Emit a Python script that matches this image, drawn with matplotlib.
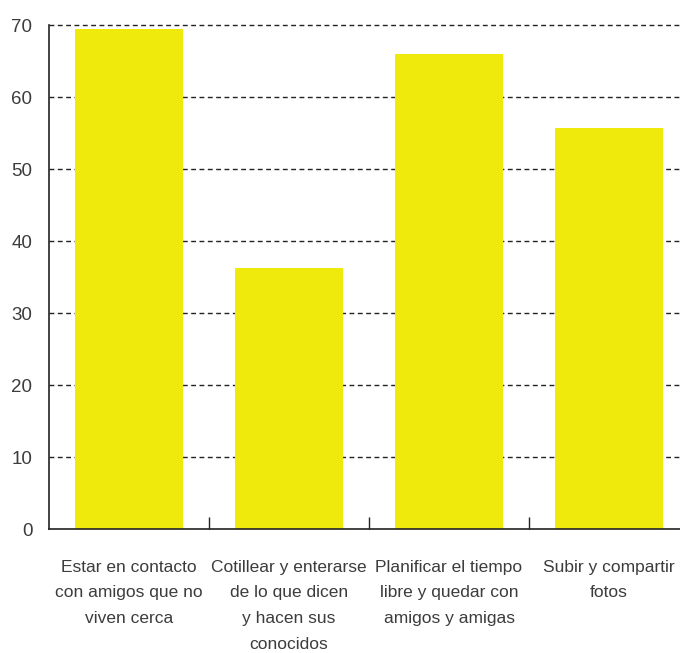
import matplotlib
matplotlib.use("Agg")
from matplotlib import pyplot as plt
from matplotlib import font_manager

categories = [
	"Estar en contacto\ncon amigos que no\nviven cerca",
	"Cotillear y enterarse\nde lo que dicen\ny hacen sus\nconocidos",
	"Planificar el tiempo\nlibre y quedar con\namigos y amigas",
	"Subir y compartir\nfotos",
]
values = [69.4, 36.3, 66.0, 55.7]
y_ticks = [0, 10, 20, 30, 40, 50, 60, 70]

names = set(f.name for f in font_manager.fontManager.ttflist)
family = "Liberation Sans Narrow" if "Liberation Sans Narrow" in names else "Liberation Sans"
plt.rcParams["font.family"] = [family, "DejaVu Sans"]

text_color = "#3c3c3c"
fig = plt.figure(figsize=(6.8, 6.53), dpi=100)
W, H = 680, 653
ax = fig.add_axes([49 / W, (H - 529) / H, 640 / W, (529 - 25) / H])

pos = list(range(len(values)))
ax.bar(pos, values, width=0.675, color="#f0e90c", zorder=2)

ax.set_xlim(-0.5, len(values) - 0.5)
ax.set_ylim(0, 70)
ax.set_yticks(y_ticks)
ax.set_yticklabels([str(t) for t in y_ticks], fontsize=13.5, color=text_color)
ax.tick_params(axis="y", length=0, pad=12)

for t in y_ticks[1:]:
	ax.axhline(t, color="#222222", lw=1, ls=(0, (3.5, 2.5)), zorder=1, clip_on=False)

ax.set_xticks([p + 0.5 for p in pos[:-1]])
ax.set_xticklabels([])
ax.tick_params(axis="x", which="major", direction="in", length=9, width=1, color="#222222")
ax.set_xticks(pos, minor=True)
ax.set_xticklabels(categories, minor=True, fontsize=12.5, color=text_color, linespacing=1.9, va="top")
ax.tick_params(axis="x", which="minor", length=0, pad=22)

for s in ["top", "right"]:
	ax.spines[s].set_visible(False)
for s in ["left", "bottom"]:
	ax.spines[s].set_color("#222222")
	ax.spines[s].set_linewidth(1.2)

fig.savefig("out.png", dpi=100)
